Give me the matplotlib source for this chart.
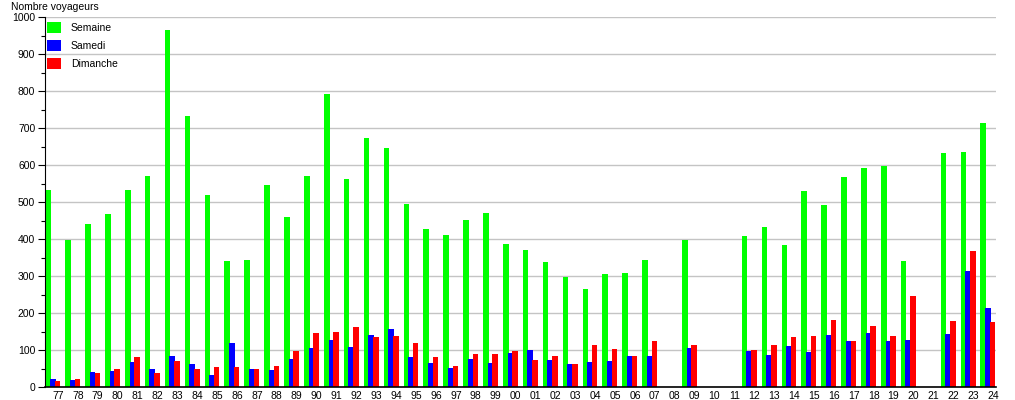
import numpy as np
import matplotlib
matplotlib.use("Agg")
import matplotlib.pyplot as plt

years = ["77", "78", "79", "80", "81", "82", "83", "84", "85", "86", "87", "88",
         "89", "90", "91", "92", "93", "94", "95", "96", "97", "98", "99", "00",
         "01", "02", "03", "04", "05", "06", "07", "08", "09", "10", "11", "12",
         "13", "14", "15", "16", "17", "18", "19", "20", "21", "22", "23", "24"]
nan = np.nan
semaine = [533, 398, 441, 468, 533, 571, 966, 733, 520, 341, 344, 547,
           460, 571, 793, 563, 674, 647, 495, 428, 412, 452, 471, 387,
           371, 339, 298, 266, 306, 309, 344, nan, 396, nan, nan, 409,
           433, 385, 531, 493, 568, 593, 598, 341, nan, 633, 636, 714]
samedi = [22, 20, 41, 44, 68, 50, 85, 63, 33, 120, 50, 47,
          77, 106, 128, 109, 141, 158, 82, 66, 52, 77, 66, 93,
          101, 74, 63, 68, 71, 85, 85, nan, 106, nan, nan, 98,
          87, 112, 95, 141, 123, 147, 123, 128, nan, 144, 314, 214]
dimanche = [17, 22, 39, 50, 82, 39, 71, 50, 55, 55, 50, 58,
            98, 147, 150, 163, 136, 139, 120, 82, 58, 90, 90, 98,
            74, 85, 63, 114, 104, 85, 125, nan, 114, nan, nan, 101,
            114, 136, 139, 182, 123, 166, 139, 247, nan, 179, 368, 177]
series_names = ["Semaine", "Samedi", "Dimanche"]
colors = ["#00ff00", "#0000ff", "#ff0000"]

plt.rcParams['font.family'] = ['Liberation Sans', 'DejaVu Sans']

fig = plt.figure(figsize=(10.15, 4.0), dpi=100)
ax = fig.add_axes([45 / 1015, 13 / 400, (996 - 45) / 1015, (387 - 17) / 400])

x = np.arange(len(years))
width = 0.28
offsets = [-0.49, -0.26, -0.02]
for vals, off, col, name in zip([semaine, samedi, dimanche], offsets, colors, series_names):
    ax.bar(x + off, np.array(vals, dtype=float), width=width, color=col, label=name,
           linewidth=0, zorder=3)

ax.set_xlim(-0.65, 47.15)
ax.set_ylim(0, 1000)
ax.set_yticks(np.arange(0, 1001, 100))
ax.set_yticks(np.arange(50, 1000, 100), minor=True)
ax.set_xticks(x)
ax.set_xticklabels(years)
ax.tick_params(axis='x', length=0, labelsize=7.5, pad=3)
ax.tick_params(axis='y', which='major', length=5, width=0.8, labelsize=7.5, pad=2)
ax.tick_params(axis='y', which='minor', length=3, width=0.8)
ax.grid(axis='y', which='major', color='#c4c4c4', linewidth=1, zorder=0)
for s in ['top', 'right']:
    ax.spines[s].set_visible(False)
ax.spines['left'].set_linewidth(0.8)
ax.spines['bottom'].set_linewidth(1.2)
ax.spines['left'].set_zorder(4)
ax.spines['bottom'].set_zorder(4)

fig.text(11 / 1015, 1 - 7 / 400, "Nombre voyageurs", fontsize=7.5, va='center', ha='left')

ax.legend(loc='upper left', bbox_to_anchor=(47 / 1015, 1 - 22 / 400),
          bbox_transform=fig.transFigure, frameon=False, fontsize=7.5,
          handlelength=1.3, handleheight=1.3, labelspacing=0.62,
          handletextpad=1.0, borderaxespad=0, borderpad=0)

fig.savefig("out.png", dpi=100)
